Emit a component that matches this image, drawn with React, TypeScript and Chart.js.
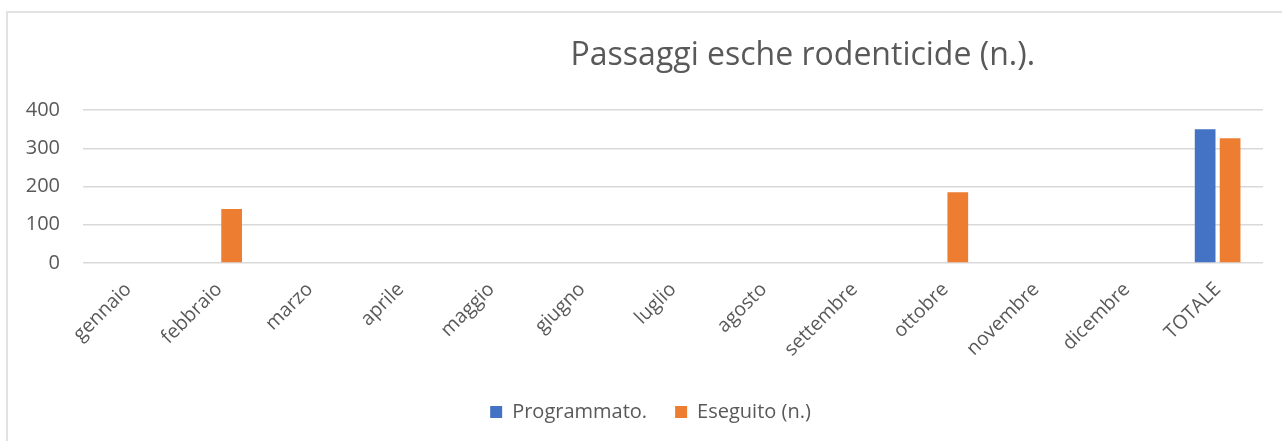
import React, { useEffect, useRef } from "react";
import { Chart, registerables } from "chart.js";

Chart.register(...registerables);

const categories = [
  "gennaio", "febbraio", "marzo", "aprile", "maggio", "giugno",
  "luglio", "agosto", "settembre", "ottobre", "novembre", "dicembre", "TOTALE",
];
const programmato = [null, null, null, null, null, null, null, null, null, null, null, null, 350];
const eseguito = [null, 141, null, null, null, null, null, null, null, 185, null, null, 326];
const titleText = "Passaggi esche rodenticide (n.).";
const seriesNames = ["Programmato.", "Eseguito (n.)"];

const FONT = "'Open Sans', 'Noto Sans', sans-serif";
const TEXT = "#595959";

const titlePlugin = {
  id: "offsetTitle",
  afterLayout(chart: any) {
    // Excel centres the legend slightly right of the canvas centre
    if (chart.legend) {
      chart.legend.left += 19;
      chart.legend.right += 19;
    }
  },
  afterDraw(chart: any) {
    const ctx = chart.ctx;
    const area = chart.chartArea;
    ctx.save();
    ctx.font = `32px ${FONT}`;
    ctx.fillStyle = TEXT;
    ctx.textAlign = "center";
    ctx.textBaseline = "alphabetic";
    const x = area.left + (area.right - area.left) * 0.61;
    ctx.fillText(titleText, x, 65);
    ctx.restore();
  },
};

export default function App() {
  const ref = useRef<HTMLCanvasElement | null>(null);
  useEffect(() => {
    if (!ref.current) return;
    const chart = new Chart(ref.current, {
      type: "bar",
      data: {
        labels: categories,
        datasets: [
          {
            label: seriesNames[0],
            data: programmato as any,
            backgroundColor: "#4472C4",
            categoryPercentage: 0.55,
            barPercentage: 0.83,
          },
          {
            label: seriesNames[1],
            data: eseguito as any,
            backgroundColor: "#ED7D31",
            categoryPercentage: 0.55,
            barPercentage: 0.83,
          },
        ],
      },
      options: {
        animation: false,
        responsive: false,
        maintainAspectRatio: false,
        layout: { padding: { left: 0, right: 19, top: 110, bottom: 9 } },
        plugins: {
          title: { display: false },
          tooltip: { enabled: false },
          legend: {
            position: "bottom",
            labels: {
              boxWidth: 12,
              boxHeight: 12,
              padding: 28,
              color: TEXT,
              font: { family: FONT, size: 20 },
            },
          },
        },
        scales: {
          x: {
            grid: { display: false, drawTicks: false },
            border: { display: false },
            ticks: {
              maxRotation: 45,
              minRotation: 45,
              padding: 15,
              color: TEXT,
              font: { family: FONT, size: 19.5 },
            },
            afterFit(scale: any) {
              scale.height = 111;
            },
          },
          y: {
            min: 0,
            max: 400,
            border: { display: false },
            grid: { color: "#d9d9d9", lineWidth: 1.4, drawTicks: false },
            ticks: {
              stepSize: 100,
              padding: 23,
              color: TEXT,
              font: { family: FONT, size: 20 },
            },
            afterFit(scale: any) {
              scale.width = 83;
            },
          },
        },
      },
      plugins: [titlePlugin],
    });
    return () => chart.destroy();
  }, []);

  return (
    <div
      style={{
        position: "fixed",
        left: 0,
        top: 0,
        width: 1282,
        height: 441,
        background: "#fff",
        overflow: "hidden",
      }}
    >
      <div
        style={{
          position: "absolute",
          left: 6,
          top: 11,
          width: 1400,
          height: 600,
          border: "2px solid #e2e2e2",
          boxSizing: "border-box",
        }}
      />
      <canvas
        ref={ref}
        width={1282}
        height={441}
        style={{ position: "absolute", left: 0, top: 0, width: 1282, height: 441 }}
      />
    </div>
  );
}
